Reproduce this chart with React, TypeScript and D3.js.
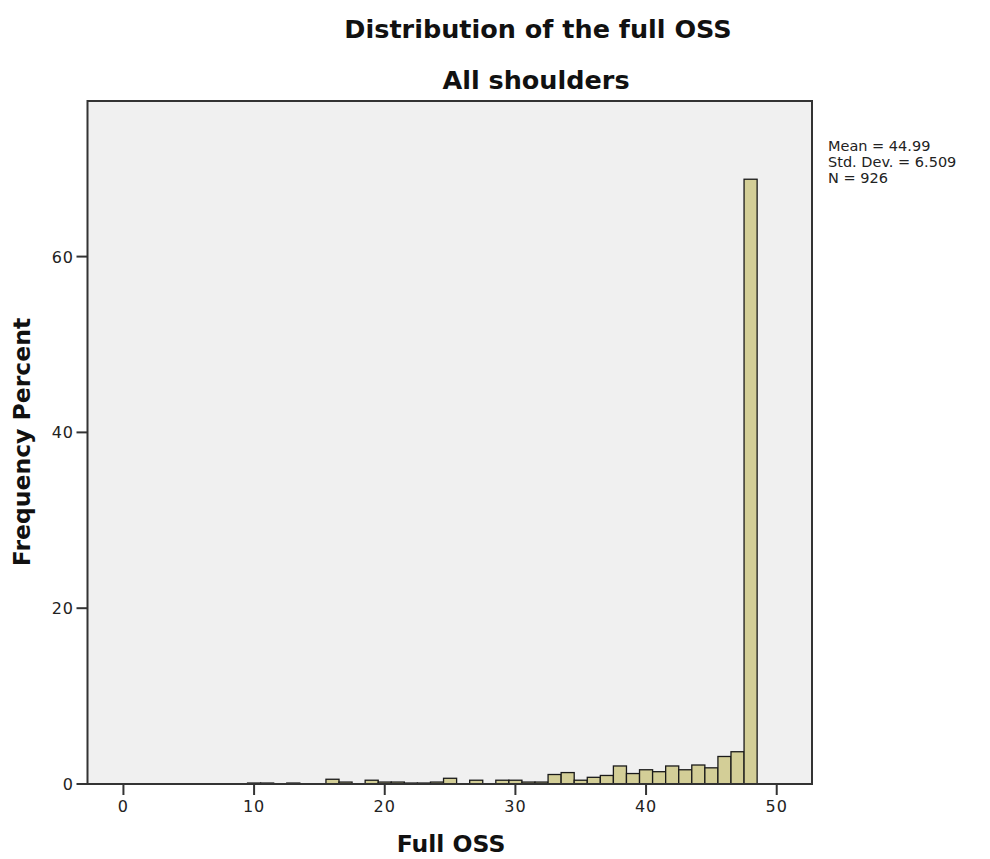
import React from "react";
import * as d3 from "d3";

const scores = [10, 11, 13, 16, 17, 19, 20, 21, 22, 23, 24, 25, 27, 29, 30, 31, 32, 33, 34, 35, 36, 37, 38, 39, 40, 41, 42, 43, 44, 45, 46, 47, 48];
const percents = [0.11, 0.11, 0.11, 0.54, 0.22, 0.43, 0.22, 0.22, 0.11, 0.11, 0.22, 0.65, 0.43, 0.43, 0.43, 0.22, 0.22, 1.08, 1.3, 0.43, 0.76, 0.97, 2.05, 1.19, 1.62, 1.4, 2.05, 1.62, 2.16, 1.84, 3.13, 3.67, 68.8];
const xTicks = [0, 10, 20, 30, 40, 50];
const yTicks = [0, 20, 40, 60];
const statsLines = ["Mean = 44.99", "Std. Dev. = 6.509", "N = 926"];
const title1 = "Distribution of the full OSS";
const title2 = "All shoulders";
const xLabel = "Full OSS";
const yLabel = "Frequency Percent";

const W = 990;
const H = 859;
const L = 87.5, R = 812, T = 101, B = 784;

export default function App() {
  const x = d3.scaleLinear().domain([-2.75, 52.7]).range([L, R]);
  const y = d3.scaleLinear().domain([0, 77.7]).range([B, T]);
  const bold = { fontFamily: "'DejaVu Sans', sans-serif", fontWeight: 700, fill: "#111" } as const;
  const reg = { fontFamily: "'DejaVu Sans', sans-serif", fill: "#222" } as const;
  return (
    <svg width={W} height={H} style={{ position: "absolute", left: 0, top: 0, background: "#fff" }}>
      <text x={538} y={38} textAnchor="middle" fontSize={25.5} {...bold}>{title1}</text>
      <text x={536} y={89} textAnchor="middle" fontSize={25.5} {...bold}>{title2}</text>
      <rect x={L} y={T} width={R - L} height={B - T} fill="#f0f0f0" stroke="none" />
      {scores.map((s, i) => (
        <rect
          key={s}
          x={x(s - 0.5)}
          y={y(percents[i])}
          width={x(s + 0.5) - x(s - 0.5)}
          height={y(0) - y(percents[i])}
          fill="#d3ce97"
          stroke="#1a1a1a"
          strokeWidth={1.3}
        />
      ))}
      <rect x={L} y={T} width={R - L} height={B - T} fill="none" stroke="#333" strokeWidth={2} />
      {xTicks.map((t) => (
        <g key={t}>
          <line x1={x(t)} x2={x(t)} y1={B} y2={B + 11} stroke="#333" strokeWidth={2} />
          <text x={x(t)} y={812} textAnchor="middle" fontSize={16} letterSpacing={1} {...reg}>{t}</text>
        </g>
      ))}
      {yTicks.map((t) => (
        <g key={t}>
          <line x1={L - 11} x2={L} y1={y(t)} y2={y(t)} stroke="#333" strokeWidth={2} />
          <text x={74} y={y(t) + 6} textAnchor="end" fontSize={16} letterSpacing={1} {...reg}>{t}</text>
        </g>
      ))}
      <text x={451} y={852} textAnchor="middle" fontSize={23.5} {...bold}>{xLabel}</text>
      <text transform={`translate(30,442) rotate(-90)`} textAnchor="middle" fontSize={23.5} {...bold}>{yLabel}</text>
      {statsLines.map((s, i) => (
        <text key={s} x={828} y={151 + i * 16} fontSize={14.5} {...reg}>{s}</text>
      ))}
    </svg>
  );
}
